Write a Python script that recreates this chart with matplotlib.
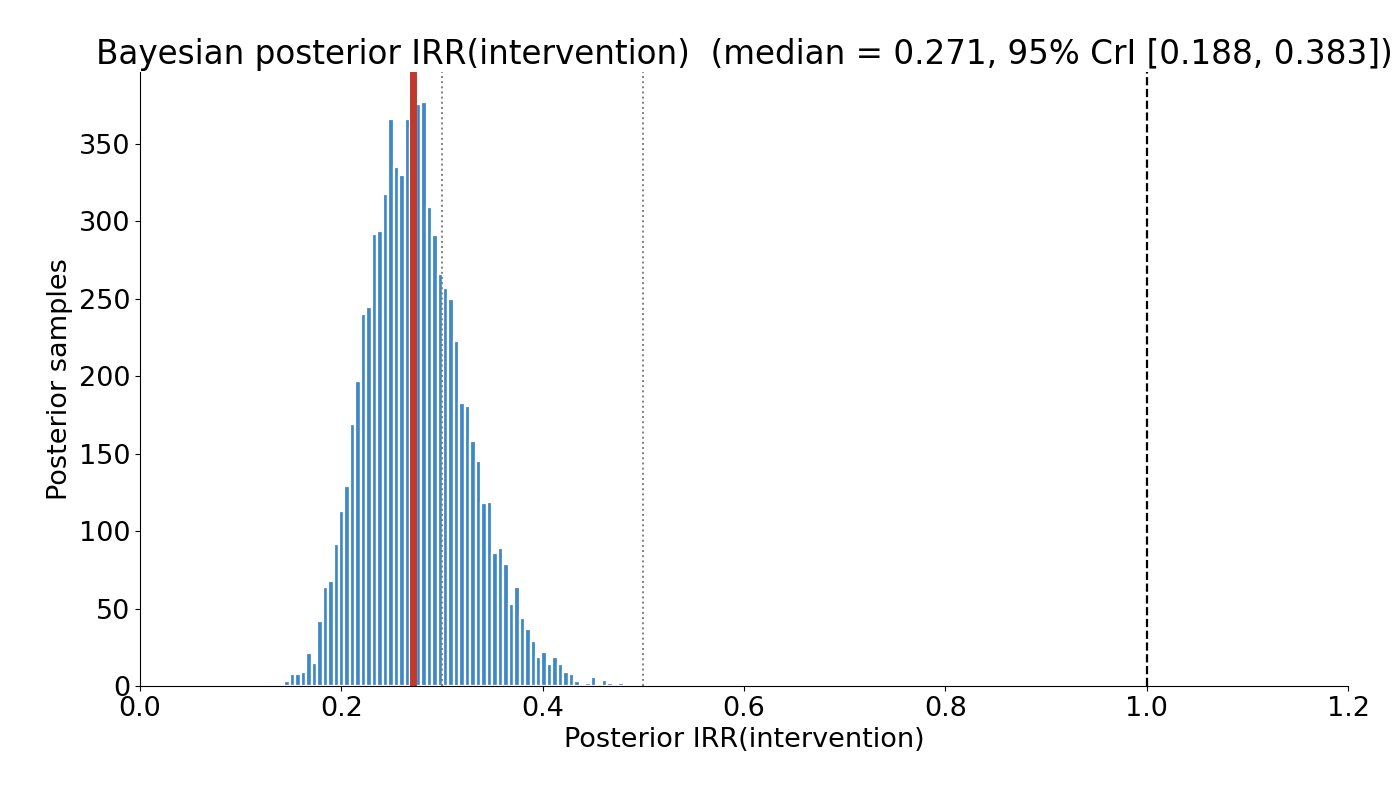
import numpy as np
import matplotlib
matplotlib.use("Agg")
import matplotlib.pyplot as plt

bin_lo, bin_hi = 0.1433, 0.4803
counts = [3, 8, 8, 9, 21, 15, 42, 64, 68, 92, 113, 129, 169, 197, 240, 245, 292, 294, 318, 366,
          335, 330, 366, 360, 376, 377, 309, 291, 266,
          257, 250, 223, 183, 181, 158, 145, 118, 119, 86, 89, 79, 53, 64, 44, 37, 29, 19, 22,
          14, 19, 14, 9, 8, 3, 0, 2, 6, 0, 4, 2, 0, 2]
median, lo95, hi95 = 0.271, 0.188, 0.383
ref_lines = [0.3, 0.5]

edges = np.linspace(bin_lo, bin_hi, len(counts) + 1)
centers = (edges[:-1] + edges[1:]) / 2
w = edges[1] - edges[0]

fig = plt.figure(figsize=(14, 8), dpi=100)
ax = fig.add_axes([0.1, 0.1425, 0.863, 0.7675])
ax.bar(centers, counts, width=w, color='#3f88c7', edgecolor='white', linewidth=1.6)
ax.axvline(median, color='#c0392b', lw=5)
for r in ref_lines:
    ax.axvline(r, color='gray', ls=':', lw=1.4)
ax.axvline(1.0, color='black', ls='--', lw=1.6)
ax.set_xlim(0, 1.2)
ax.set_ylim(0, 396.5)
ax.spines['top'].set_visible(False)
ax.spines['right'].set_visible(False)
ax.tick_params(labelsize=19.5)
ax.set_xlabel('Posterior IRR(intervention)', fontsize=19.5)
ax.set_ylabel('Posterior samples', fontsize=19.5)
ax.set_title(f'Bayesian posterior IRR(intervention)  (median = {median:.3f}, 95% CrI [{lo95:.3f}, {hi95:.3f}])',
             fontsize=23.5)
fig.savefig('out.png')
